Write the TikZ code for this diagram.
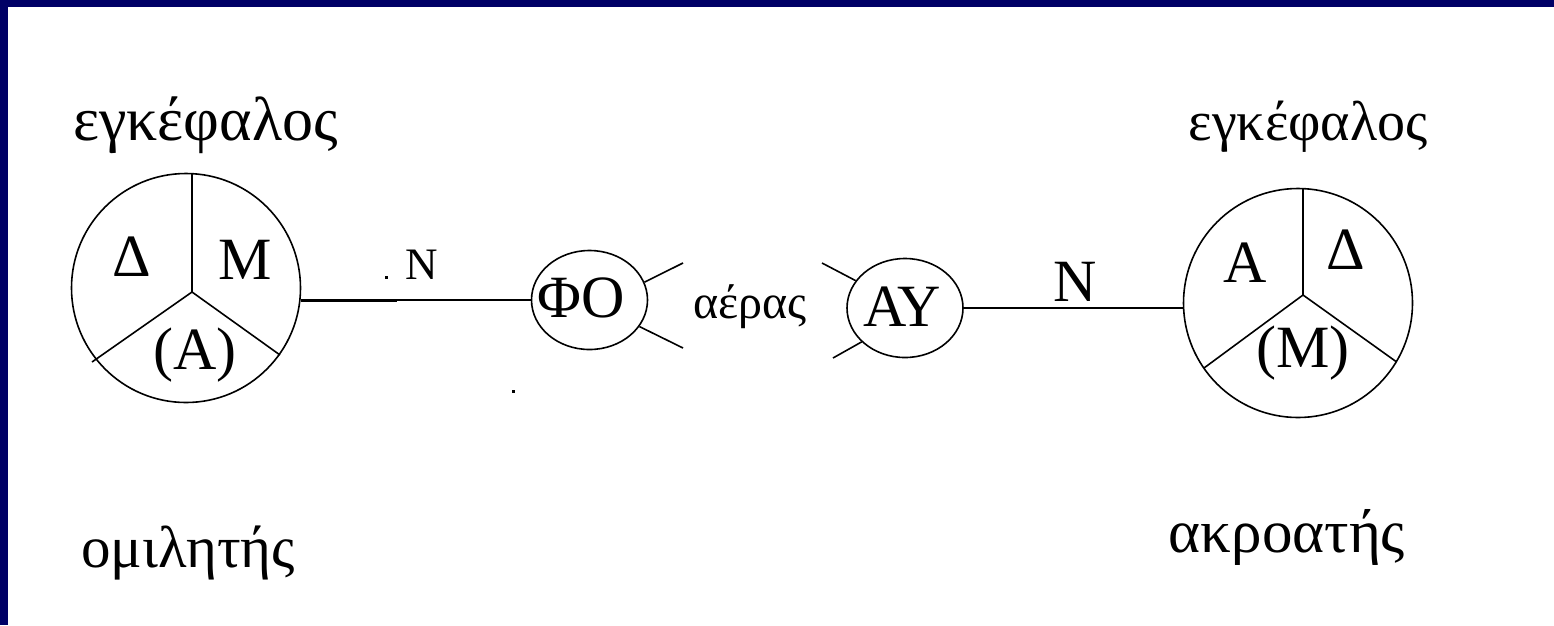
\documentclass[tikz,border=0pt]{standalone}
\usepackage{fontspec}
\setmainfont{Liberation Serif}
\usetikzlibrary{shapes.geometric}
\definecolor{frameblue}{RGB}{0,0,102}
\tikzset{
  ln/.style={line width=1.6pt, black},
  brain/.style={circle, draw, line width=1.6pt, minimum size=229pt, inner sep=0pt},
  organ/.style={ellipse, draw, line width=1.6pt, minimum width=116pt, minimum height=99pt, inner sep=0pt},
  big/.style={inner sep=0pt, font=\fontsize{60}{60}\selectfont},
  word/.style={inner sep=0pt, anchor=base, font=\fontsize{60}{60}\selectfont},
  air/.style={inner sep=0pt, anchor=base, font=\fontsize{48}{48}\selectfont},
  dotmark/.style={fill=black, inner sep=0pt, minimum size=3pt, rectangle}
}
\begin{document}
\begin{tikzpicture}[x=1pt,y=-1pt]
\useasboundingbox (0,0) rectangle (1554,625);
\fill[white] (0,0) rectangle (1554,625);
\fill[frameblue] (0,0) rectangle (1554,7);
\fill[frameblue] (0,0) rectangle (8,625);

% speaker brain
\node[brain] (spk) at (186,288) {};
\coordinate (sj) at (192,292);
\coordinate (st) at (192,173.6);
\coordinate (sl) at (92,362);
\coordinate (sr) at (280,355);
\draw[ln] (sj) -- (st);
\draw[ln] (sj) -- (sl);
\draw[ln] (sj) -- (sr);
\node[big] (sD) at (132,257) {Δ};
\node[big] (sM) at (245,260) {M};
\node[big] (sA) at (195,355) {(A)};

% listener brain
\node[brain] (lst) at (1298,303) {};
\coordinate (lj) at (1303,295);
\coordinate (lt) at (1303,188.6);
\coordinate (ll) at (1204,368);
\coordinate (lr) at (1396,361.5);
\draw[ln] (lj) -- (lt);
\draw[ln] (lj) -- (ll);
\draw[ln] (lj) -- (lr);
\node[big] (lA) at (1245,263) {A};
\node[big] (lD) at (1346,250) {Δ};
\node[big] (lM) at (1303,353) {(M)};

% organs
\node[organ] (fo) at (589.5,300) {};
\node[big] (foT) at (581,298) {ΦΟ};
\node[organ] (ay) at (905,308) {};
\node[big] (ayT) at (902,307) {ΑΥ};

% ticks
\coordinate (fo1) at (683,263);
\coordinate (fo2) at (683,348);
\draw[ln] (fo.18) -- (fo1);
\draw[ln] (fo.-28) -- (fo2);
\coordinate (ay1) at (822,263);
\coordinate (ay2) at (833,358);
\draw[ln] (ay.151) -- (ay1);
\draw[ln] (ay.218) -- (ay2);

% nerves
\coordinate (nmid) at (397,300);
\draw[line width=3pt] (spk.east |- fo.west) -- (nmid);
\draw[ln] (nmid) -- (fo.west);
\draw[ln] (ay.east) -- (lst.west |- ay.east);
\node[inner sep=0pt, font=\fontsize{45}{45}\selectfont] (n1) at (422,265) {N};
\node[big] (n2) at (1075,282) {N};
\node[dotmark] (d1) at (386,277) {};
\node[dotmark] (d2) at (513,391) {};

% words
\node[word, font=\fontsize{62}{62}\selectfont] (w1) at (205.5,140) {εγκέφαλος};
\node[word, font=\fontsize{56}{56}\selectfont] (w2) at (1308,140) {εγκέφαλος};
\node[word, font=\fontsize{59}{59}\selectfont] (w3) at (188,567) {ομιλητής};
\node[word, font=\fontsize{61}{61}\selectfont] (w4) at (1287,552) {ακροατής};
\node[air] (w5) at (750,318) {αέρας};
\end{tikzpicture}
\end{document}
